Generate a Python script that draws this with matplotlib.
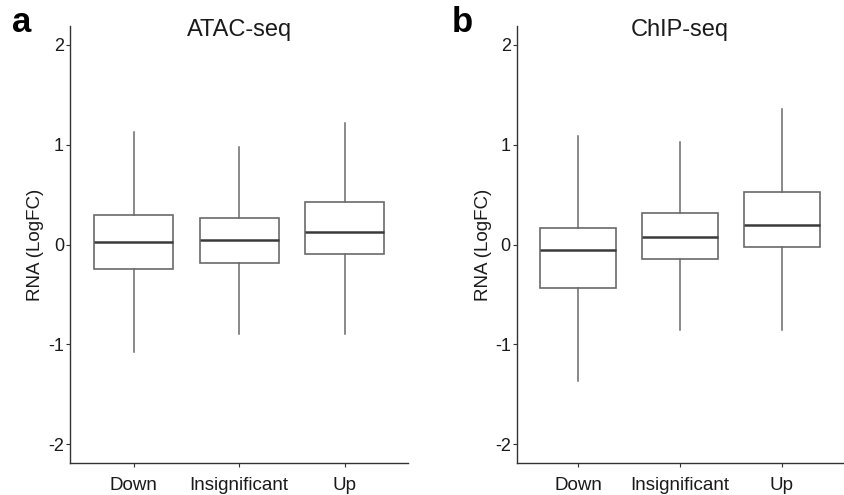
import matplotlib
matplotlib.use("Agg")
import matplotlib.pyplot as plt

plt.rcParams['font.family'] = ['Liberation Sans', 'DejaVu Sans']

categories = ["Down", "Insignificant", "Up"]

# ATAC-seq panel stats
atac_whislo = [-1.08, -0.90, -0.90]
atac_q1 = [-0.25, -0.19, -0.10]
atac_med = [0.03, 0.05, 0.13]
atac_q3 = [0.30, 0.27, 0.43]
atac_whishi = [1.13, 0.98, 1.22]

# ChIP-seq panel stats
chip_whislo = [-1.37, -0.86, -0.86]
chip_q1 = [-0.44, -0.15, -0.03]
chip_med = [-0.06, 0.08, 0.20]
chip_q3 = [0.17, 0.32, 0.53]
chip_whishi = [1.09, 1.03, 1.36]

titles = ["ATAC-seq", "ChIP-seq"]
panel_labels = ["a", "b"]
ylabel = "RNA (LogFC)"
yticks = [-2, -1, 0, 1, 2]

fig = plt.figure(figsize=(8.44, 4.95), dpi=100)

axes_pos = [
    [70.3 / 844, 1 - 463 / 495, (408 - 70.3) / 844, (463 - 26) / 495],
    [517 / 844, 1 - 463 / 495, (843 - 517) / 844, (463 - 26) / 495],
]
ylabel_x_px = [36, 484]

panels = [
    (atac_whislo, atac_q1, atac_med, atac_q3, atac_whishi),
    (chip_whislo, chip_q1, chip_med, chip_q3, chip_whishi),
]

box_col = "#6a6a6a"
spine_col = "#333333"
text_col = "#1a1a1a"

for i, (pos, data) in enumerate(zip(axes_pos, panels)):
    ax = fig.add_axes(pos)
    wlo, q1, med, q3, whi = data
    stats = []
    for j, cat in enumerate(categories):
        stats.append(dict(label=cat, whislo=wlo[j], q1=q1[j], med=med[j],
                          q3=q3[j], whishi=whi[j], fliers=[]))
    ax.bxp(stats, positions=[1, 2, 3], widths=0.75, showcaps=False,
           showfliers=False, patch_artist=True,
           boxprops=dict(facecolor="white", edgecolor=box_col, linewidth=1.2),
           whiskerprops=dict(color=box_col, linewidth=1.1),
           medianprops=dict(color="#3a3a3a", linewidth=1.8))
    ax.set_xlim(0.4, 3.6)
    ax.set_ylim(-2.19, 2.19)
    ax.set_yticks(yticks)
    ax.set_yticklabels([str(t) for t in yticks], fontsize=13)
    ax.set_xticks([1, 2, 3])
    ax.set_xticklabels(categories, fontsize=13.5)
    ax.tick_params(axis='both', length=3, width=0.8, color=spine_col,
                   labelcolor=text_col)
    ax.tick_params(axis='y', pad=1.5)
    ax.tick_params(axis='x', pad=7)
    for s in ["top", "right"]:
        ax.spines[s].set_visible(False)
    for s in ["left", "bottom"]:
        ax.spines[s].set_color(spine_col)
        ax.spines[s].set_linewidth(1.0)
    ax.set_ylabel(ylabel, fontsize=13.5, color=text_col)
    bb_w = pos[2] * 844
    ax.yaxis.set_label_coords((ylabel_x_px[i] - pos[0] * 844) / bb_w, 0.5)
    ax.yaxis.label.set_va("center")
    ax.text(0.5, 1 - 4 / 437, titles[i], transform=ax.transAxes,
            ha="center", va="center", fontsize=17, color=text_col)

fig.text(12 / 844, 1 - 23 / 495, panel_labels[0], fontsize=25,
         fontweight="bold", ha="left", va="center")
fig.text(452 / 844, 1 - 23 / 495, panel_labels[1], fontsize=25,
         fontweight="bold", ha="left", va="center")

fig.savefig("out.png", dpi=100)
